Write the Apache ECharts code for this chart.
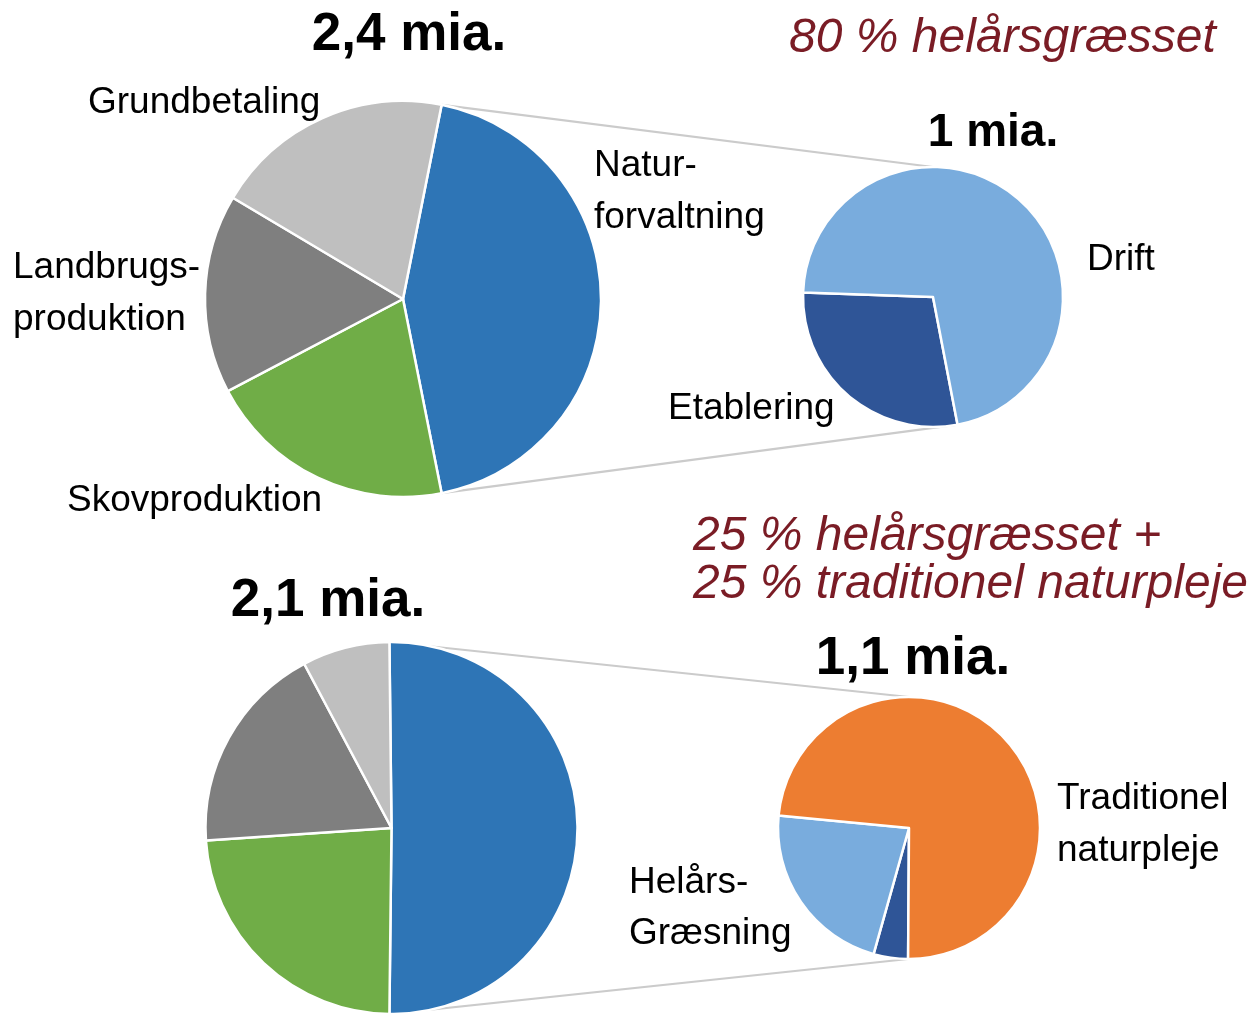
<!DOCTYPE html>
<html>
<head>
<meta charset="utf-8">
<title>Naturforvaltning – fordeling</title>
<script src="https://cdn.jsdelivr.net/npm/echarts@6/dist/echarts.min.js"></script>
<style>
  html, body { margin: 0; padding: 0; background: #ffffff; }
  #chart { width: 1258px; height: 1014px; }
</style>
</head>
<body>
<div id="chart"></div>
<script>
// Upper scenario: total 2,4 mia., split of the nature slice (1 mia.)
const topCats = ['Naturforvaltning', 'Skovproduktion', 'Landbrugsproduktion', 'Grundbetaling'];
const topValues = [1.05, 0.49, 0.39, 0.47];
const topSubCats = ['Etablering', 'Drift'];
const topSubValues = [0.30, 0.75];

// Lower scenario: total 2,1 mia., split of the nature slice (1,1 mia.)
const bottomCats = ['Naturforvaltning', 'Skovproduktion', 'Landbrugsproduktion', 'Grundbetaling'];
const bottomValues = [1.06, 0.50, 0.385, 0.16];
const bottomSubCats = ['Etablering', 'Helårsgræsning', 'Traditionel naturpleje'];
const bottomSubValues = [0.045, 0.235, 0.78];

// Titles and headline texts
const topTotal = '2,4 mia.';
const topSubTotal = '1 mia.';
const bottomTotal = '2,1 mia.';
const bottomSubTotal = '1,1 mia.';
const topNote = ['80 % helårsgræsset'];
const bottomNote = ['25 % helårsgræsset +', '25 % traditionel naturpleje'];

const mainColors = ['#2E75B6', '#70AD47', '#7F7F7F', '#BFBFBF'];
const topSubColors = ['#2F5597', '#79ACDD'];
const bottomSubColors = ['#2F5597', '#79ACDD', '#ED7D31'];
const noteColor = '#7A1C25';
const FONT = '"Liberation Sans", Arial, Helvetica, sans-serif';

// Layout of the four pies; "fromTop" = clockwise angle from 12 o'clock where the first slice begins
const L = {
  topMain:    { cx: 403,   cy: 299, r: 198 },
  topSub:     { cx: 933,   cy: 297, r: 130, fromTop: 169.1 },
  bottomMain: { cx: 391.5, cy: 828, r: 186 },
  bottomSub:  { cx: 909,   cy: 828, r: 131, fromTop: 180.4 }
};

function sum(a) { return a.reduce((s, v) => s + v, 0); }

// The split slice (first item) is centred on the right-hand side, pie-of-pie style
function mainStart(values) {
  return values[0] / sum(values) * 360 / 2;
}

function pieSeries(name, cats, values, colors, lay, startAngle) {
  return {
    type: 'pie',
    name: name,
    center: [lay.cx, lay.cy],
    radius: [0, lay.r],
    startAngle: startAngle,
    clockwise: true,
    silent: true,
    label: { show: false },
    labelLine: { show: false },
    emphasis: { disabled: true },
    itemStyle: { borderColor: '#ffffff', borderWidth: 2.5 },
    data: values.map((v, i) => ({ name: cats[i], value: v, itemStyle: { color: colors[i] } }))
  };
}

// Connector lines: from the edges of the split slice to the top of the secondary pie
// and to the edge where its first slice starts
function connectors(values, main, sub) {
  const s = mainStart(values);
  const e = s - values[0] / sum(values) * 360;
  const pt = (c, deg) => {
    const a = deg * Math.PI / 180;
    return [c.cx + c.r * Math.cos(a), c.cy - c.r * Math.sin(a)];
  };
  const p1 = pt(main, s), p2 = pt(main, e);
  const q1 = pt(sub, 90), q2 = pt(sub, 90 - sub.fromTop);
  const style = { stroke: '#CBCBCB', lineWidth: 2.2 };
  return [
    { type: 'line', z: -1, shape: { x1: p1[0], y1: p1[1], x2: q1[0], y2: q1[1] }, style: style },
    { type: 'line', z: -1, shape: { x1: p2[0], y1: p2[1], x2: q2[0], y2: q2[1] }, style: style }
  ];
}

function text(str, x, y, opt) {
  opt = opt || {};
  return {
    type: 'text',
    z: 10,
    style: {
      text: str,
      x: x,
      y: y,
      fill: opt.color || '#000000',
      font: (opt.style || 'normal') + ' ' + (opt.weight || 'normal') + ' ' + (opt.size || 37) + 'px ' + (opt.family || FONT),
      align: opt.align || 'left',
      verticalAlign: 'middle'
    }
  };
}

const big = { weight: 'bold', size: 53, align: 'center' };
const note = { style: 'italic', size: 48, color: noteColor };

const graphics = [].concat(
  connectors(topValues, L.topMain, L.topSub),
  connectors(bottomValues, L.bottomMain, L.bottomSub),
  [
    text(topTotal, 409, 35, big),
    text(topSubTotal, 993, 133, { weight: 'bold', size: 46, align: 'center' }),
    text(bottomTotal, 328, 601, big),
    text(bottomSubTotal, 913, 659, big),
    text(topNote[0], 789, 39, note),
    text(bottomNote[0], 693, 537, note),
    text(bottomNote[1], 693, 585, note),

    text('Grundbetaling', 88, 103),
    text('Natur-', 594, 166),
    text('forvaltning', 594, 218),
    text('Landbrugs-', 13, 268),
    text('produktion', 13, 320),
    text('Skovproduktion', 67, 501),
    text(topSubCats[1], 1087, 260),
    text(topSubCats[0], 668, 409),
    text('Traditionel', 1057, 799),
    text('naturpleje', 1057, 851),
    text('Helårs-', 629, 883),
    text('Græsning', 629, 934)
  ]
);

const chart = echarts.init(document.getElementById('chart'), null, { renderer: 'canvas' });
chart.setOption({
  animation: false,
  backgroundColor: '#ffffff',
  series: [
    pieSeries('Øverst', topCats, topValues, mainColors, L.topMain, mainStart(topValues)),
    pieSeries('Øverst, natur', topSubCats, topSubValues, topSubColors, L.topSub, 90 - L.topSub.fromTop),
    pieSeries('Nederst', bottomCats, bottomValues, mainColors, L.bottomMain, mainStart(bottomValues)),
    pieSeries('Nederst, natur', bottomSubCats, bottomSubValues, bottomSubColors, L.bottomSub, 90 - L.bottomSub.fromTop)
  ],
  graphic: graphics
});
</script>
</body>
</html>
